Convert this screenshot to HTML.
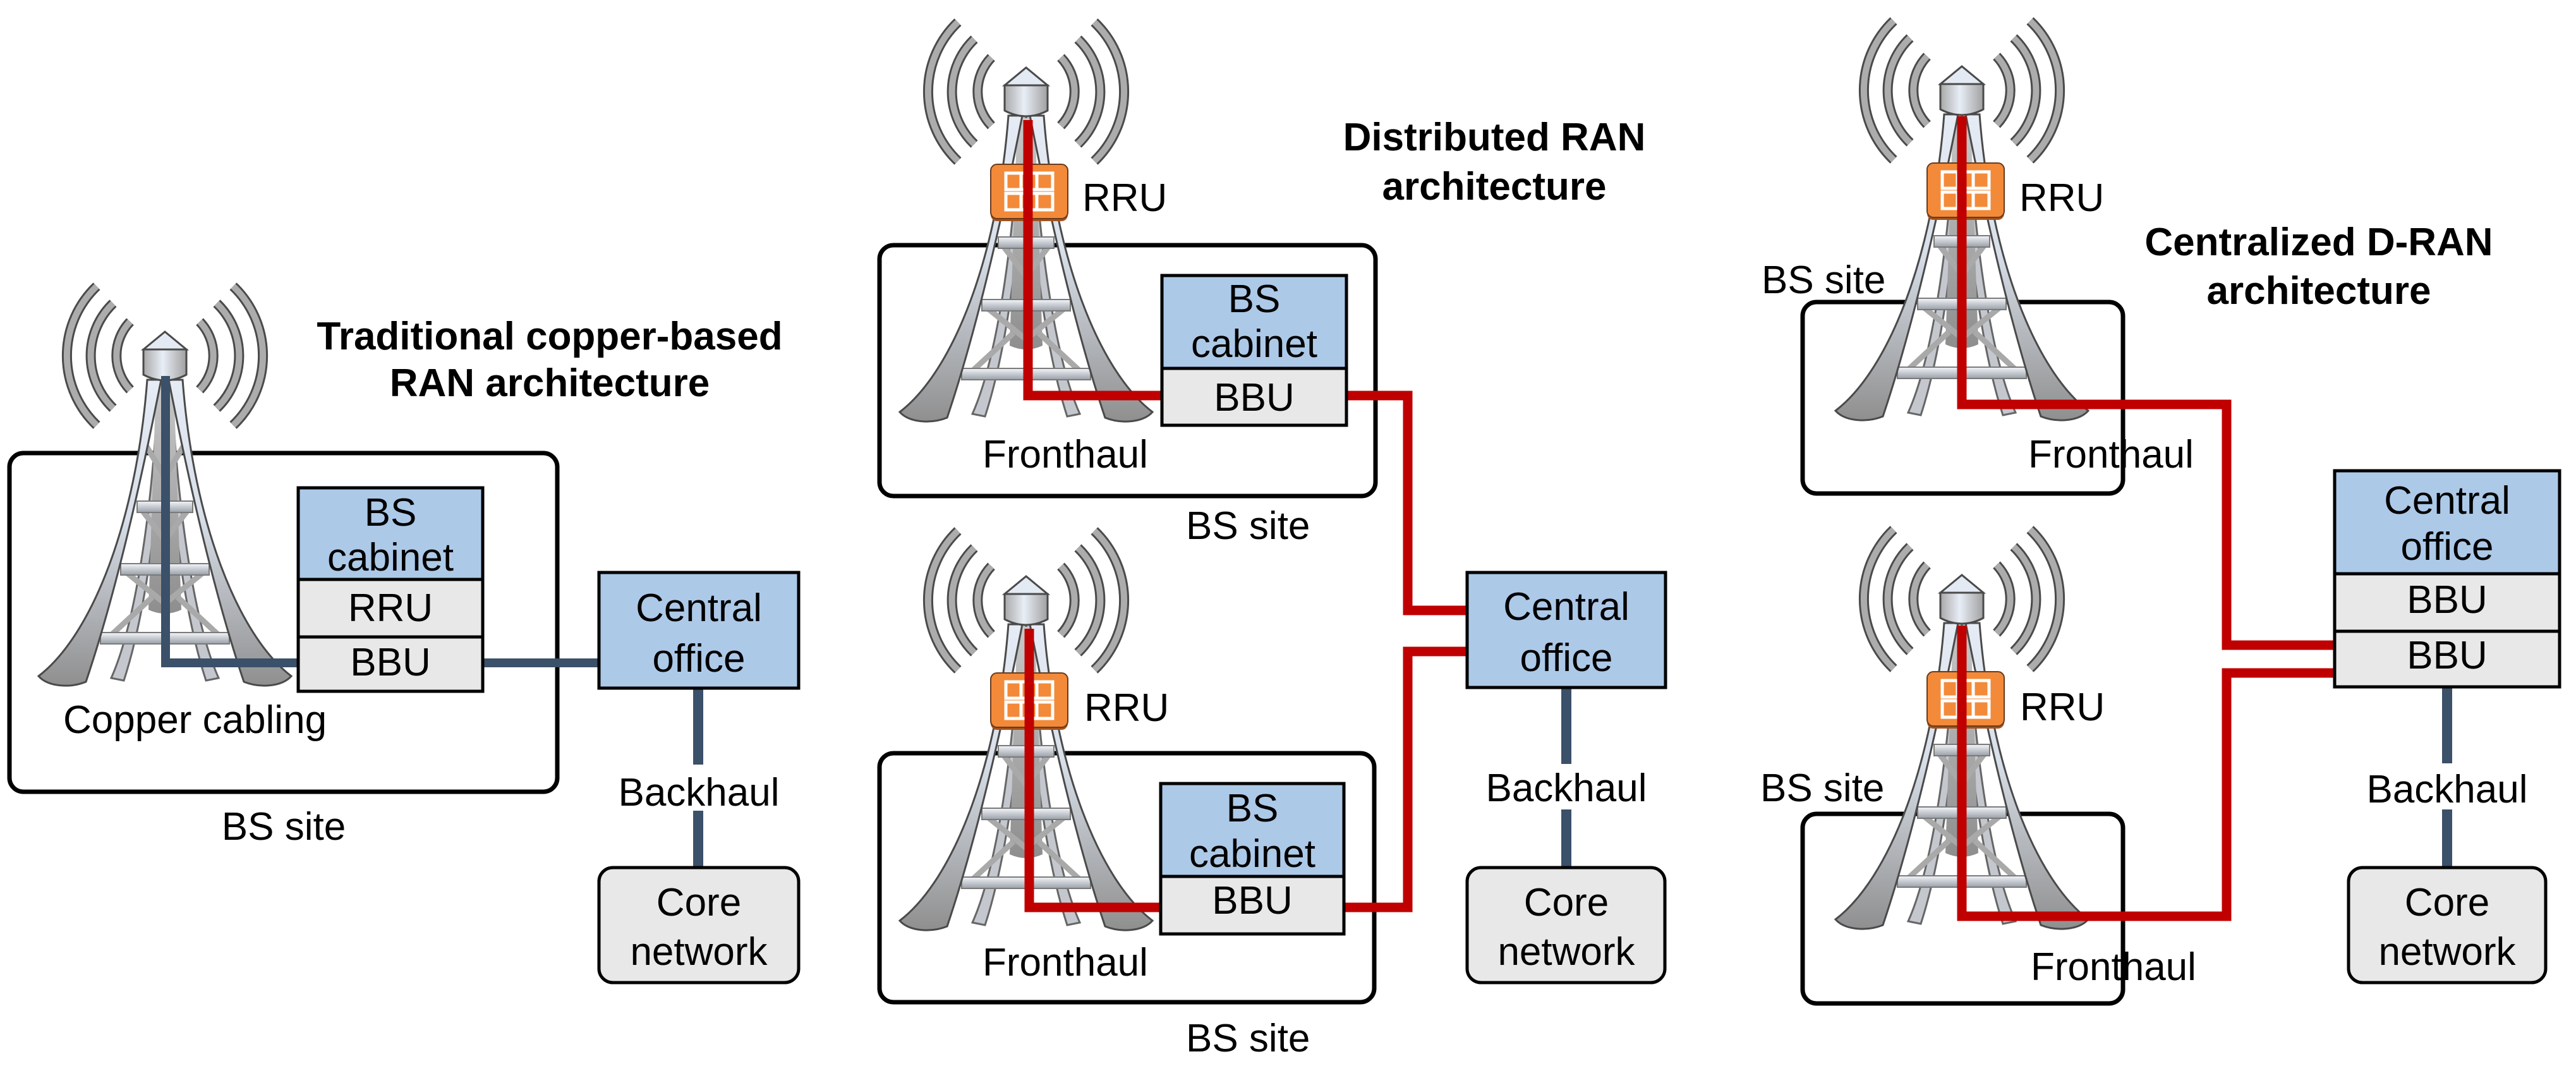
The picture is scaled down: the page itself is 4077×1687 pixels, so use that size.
<!DOCTYPE html>
<html><head><meta charset="utf-8"><style>
html,body{margin:0;padding:0;background:#fff;}
svg{display:block;}
text{font-family:"Liberation Sans",Arial,sans-serif;fill:#000;}
.l{font-size:62px;text-anchor:middle;}
.ll{font-size:62px;}
.t{font-size:62px;font-weight:bold;text-anchor:middle;}
</style></head><body>
<svg width="4077" height="1687" viewBox="0 0 4077 1687" xmlns="http://www.w3.org/2000/svg">
<defs>
<linearGradient id="leg" x1="0" y1="0" x2="0" y2="1">
<stop offset="0" stop-color="#e6ecf5"/><stop offset="0.45" stop-color="#d8dfe9"/><stop offset="1" stop-color="#8f8f8f"/>
</linearGradient>
<linearGradient id="cyl" x1="0" y1="0" x2="1" y2="0">
<stop offset="0" stop-color="#a8a8a8"/><stop offset="0.45" stop-color="#e8eef6"/><stop offset="1" stop-color="#a0a0a0"/>
</linearGradient>
<linearGradient id="pole" x1="0" y1="0" x2="0" y2="1">
<stop offset="0" stop-color="#c8c8c8"/><stop offset="1" stop-color="#8e8e8e"/>
</linearGradient>
<linearGradient id="bar" x1="0" y1="0" x2="0" y2="1">
<stop offset="0" stop-color="#f4f6fa"/><stop offset="1" stop-color="#9aa0a8"/>
</linearGradient>
<g id="waves" fill="none">
<g stroke="#4a4a4a" stroke-width="16">
<path d="M -55 -16 A 78 78 0 0 0 -55 92"/><path d="M 55 -16 A 78 78 0 0 1 55 92"/>
<path d="M -82 -45 A 115 115 0 0 0 -82 121"/><path d="M 82 -45 A 115 115 0 0 1 82 121"/>
<path d="M -108 -72 A 152 152 0 0 0 -108 148"/><path d="M 108 -72 A 152 152 0 0 1 108 148"/>
</g>
<g stroke="#acacac" stroke-width="10">
<path d="M -55 -16 A 78 78 0 0 0 -55 92"/><path d="M 55 -16 A 78 78 0 0 1 55 92"/>
<path d="M -82 -45 A 115 115 0 0 0 -82 121"/><path d="M 82 -45 A 115 115 0 0 1 82 121"/>
<path d="M -108 -72 A 152 152 0 0 0 -108 148"/><path d="M 108 -72 A 152 152 0 0 1 108 148"/>
</g>
</g>
<g id="tower">
<use href="#waves"/>
<path d="M -10 76 C -20 300 -50 470 -85 548 L -65 552 C -35 460 -8 300 0 76 Z" fill="#c4c8ce" stroke="#666" stroke-width="3"/>
<path d="M 10 76 C 20 300 50 470 85 548 L 65 552 C 35 460 8 300 0 76 Z" fill="#c4c8ce" stroke="#666" stroke-width="3"/>
<path d="M -14 80 L -26 440 Q 0 452 26 440 L 14 80 Z" fill="url(#pole)"/>
<g stroke="#a9a9a9" stroke-width="9">
<line x1="-38" y1="280" x2="0" y2="330"/><line x1="38" y1="280" x2="0" y2="330"/>
<line x1="-62" y1="380" x2="0" y2="430"/><line x1="62" y1="380" x2="0" y2="430"/>
<line x1="-85" y1="480" x2="-20" y2="420"/><line x1="85" y1="480" x2="20" y2="420"/>
<line x1="-30" y1="180" x2="0" y2="230"/><line x1="30" y1="180" x2="0" y2="230"/>
</g>
<g stroke="#7a7a7a" stroke-width="2" fill="url(#bar)">
<rect x="-44" y="268" width="88" height="18"/>
<rect x="-70" y="367" width="140" height="18"/>
<rect x="-102" y="476" width="204" height="18"/>
</g>
<path d="M -28 76 C -45 300 -115 480 -200 545 C -185 562 -150 564 -125 554 C -90 450 -50 300 -6 76 Z" fill="url(#leg)" stroke="#4a4a4a" stroke-width="3"/>
<path d="M 28 76 C 45 300 115 480 200 545 C 185 562 150 564 125 554 C 90 450 50 300 6 76 Z" fill="url(#leg)" stroke="#4a4a4a" stroke-width="3"/>
<path d="M -34 28 L 0 0 L 34 28 Z" fill="#e4eaf3" stroke="#4a4a4a" stroke-width="3"/>
<path d="M -34 28 L 34 28 L 34 68 Q 0 86 -34 68 Z" fill="url(#cyl)" stroke="#4a4a4a" stroke-width="3"/>
</g>
<g id="rru">
<rect x="-58" y="0" width="122" height="90" rx="10" fill="#a3521d"/>
<rect x="-58" y="0" width="122" height="86" rx="10" fill="#f28a3a" stroke="#6b3a1a" stroke-width="2"/>
<g fill="none" stroke="#fff" stroke-width="5">
<rect x="-34" y="14" width="74" height="26"/><rect x="-34" y="46" width="74" height="26"/>
<line x1="-10" y1="14" x2="-10" y2="40"/><line x1="15" y1="14" x2="15" y2="40"/>
<line x1="-10" y1="46" x2="-10" y2="72"/><line x1="15" y1="46" x2="15" y2="72"/>
</g>
</g>
</defs>

<g fill="none" stroke="#000" stroke-width="7">
<rect x="15" y="717" width="867" height="536" rx="22"/>
<rect x="1392" y="388" width="785" height="397" rx="22"/>
<rect x="1392" y="1192" width="783" height="394" rx="22"/>
<rect x="2853" y="478" width="507" height="303" rx="22"/>
<rect x="2853" y="1288" width="507" height="300" rx="22"/>
</g>

<use href="#tower" transform="translate(261,525)"/>
<use href="#tower" transform="translate(1624,107)"/>
<use href="#tower" transform="translate(1624,912)"/>
<use href="#tower" transform="translate(3105,105)"/>
<use href="#tower" transform="translate(3105,910)"/>
<use href="#rru" transform="translate(1626,260)"/>
<use href="#rru" transform="translate(1626,1065)"/>
<use href="#rru" transform="translate(3108,258)"/>
<use href="#rru" transform="translate(3108,1063)"/>

<g fill="none" stroke="#3b5069" stroke-width="14">
<polyline points="262,595 262,1049 472,1049"/>
<line x1="764" y1="1049" x2="948" y2="1049"/>
</g>
<g stroke="#3b5069" stroke-width="16">
<line x1="1105" y1="1089" x2="1105" y2="1210"/><line x1="1105" y1="1283" x2="1105" y2="1373"/>
<line x1="2479" y1="1088" x2="2479" y2="1209"/><line x1="2479" y1="1281" x2="2479" y2="1373"/>
<line x1="3873" y1="1087" x2="3873" y2="1208"/><line x1="3873" y1="1281" x2="3873" y2="1373"/>
</g>

<g fill="none" stroke="#c00000" stroke-width="15">
<polyline points="1627,190 1627,626 1839,626"/>
<polyline points="2131,626 2228,626 2228,966 2322,966"/>
<polyline points="1629,995 1629,1436 1837,1436"/>
<polyline points="2127,1436 2228,1436 2228,1031 2322,1031"/>
<polyline points="3105,184 3105,640 3524,640 3524,1021 3695,1021"/>
<polyline points="3105,990 3105,1450 3524,1450 3524,1065 3695,1065"/>
</g>

<g stroke="#000" stroke-width="5">
<rect x="472" y="772" width="292" height="145" fill="#adc9e8"/>
<rect x="472" y="917" width="292" height="91" fill="#e8e8e8"/>
<rect x="472" y="1008" width="292" height="86" fill="#e8e8e8"/>
<rect x="948" y="906" width="316" height="183" fill="#adc9e8"/>
<rect x="948" y="1373" width="316" height="182" rx="22" fill="#e8e8e8"/>

<rect x="1839" y="436" width="292" height="147" fill="#adc9e8"/>
<rect x="1839" y="583" width="292" height="90" fill="#e8e8e8"/>
<rect x="1837" y="1240" width="290" height="147" fill="#adc9e8"/>
<rect x="1837" y="1387" width="290" height="91" fill="#e8e8e8"/>
<rect x="2322" y="906" width="314" height="182" fill="#adc9e8"/>
<rect x="2322" y="1373" width="313" height="182" rx="22" fill="#e8e8e8"/>

<rect x="3695" y="745" width="356" height="163" fill="#adc9e8"/>
<rect x="3695" y="908" width="356" height="91" fill="#e8e8e8"/>
<rect x="3695" y="999" width="356" height="88" fill="#e8e8e8"/>
<rect x="3717" y="1373" width="312" height="182" rx="22" fill="#e8e8e8"/>
</g>

<text class="t" x="870" y="553">Traditional copper-based</text>
<text class="t" x="870" y="627">RAN architecture</text>
<text class="t" x="2365" y="238">Distributed RAN</text>
<text class="t" x="2365" y="316">architecture</text>
<text class="t" x="3670" y="404">Centralized D-RAN</text>
<text class="t" x="3670" y="481">architecture</text>

<text class="l" x="618" y="832">BS</text>
<text class="l" x="618" y="903">cabinet</text>
<text class="l" x="618" y="983">RRU</text>
<text class="l" x="618" y="1069">BBU</text>
<text class="l" x="1106" y="983">Central</text>
<text class="l" x="1106" y="1063">office</text>
<text class="l" x="1106" y="1275">Backhaul</text>
<text class="l" x="1106" y="1449">Core</text>
<text class="l" x="1106" y="1527">network</text>
<text class="ll" x="100" y="1160">Copper cabling</text>
<text class="l" x="449" y="1329">BS site</text>

<text class="ll" x="1713" y="334">RRU</text>
<text class="l" x="1985" y="494">BS</text>
<text class="l" x="1985" y="565">cabinet</text>
<text class="l" x="1985" y="650">BBU</text>
<text class="ll" x="1555" y="740">Fronthaul</text>
<text class="ll" x="1877" y="853">BS site</text>
<text class="ll" x="1716" y="1141">RRU</text>
<text class="l" x="1982" y="1300">BS</text>
<text class="l" x="1982" y="1372">cabinet</text>
<text class="l" x="1982" y="1446">BBU</text>
<text class="ll" x="1555" y="1544">Fronthaul</text>
<text class="ll" x="1877" y="1664">BS site</text>
<text class="l" x="2479" y="981">Central</text>
<text class="l" x="2479" y="1062">office</text>
<text class="l" x="2479" y="1268">Backhaul</text>
<text class="l" x="2479" y="1449">Core</text>
<text class="l" x="2479" y="1527">network</text>

<text class="ll" x="3196" y="334">RRU</text>
<text class="ll" x="2788" y="464">BS site</text>
<text class="ll" x="3210" y="740">Fronthaul</text>
<text class="ll" x="3197" y="1140">RRU</text>
<text class="ll" x="2786" y="1268">BS site</text>
<text class="ll" x="3214" y="1551">Fronthaul</text>
<text class="l" x="3873" y="813">Central</text>
<text class="l" x="3873" y="886">office</text>
<text class="l" x="3873" y="970">BBU</text>
<text class="l" x="3873" y="1058">BBU</text>
<text class="l" x="3873" y="1270">Backhaul</text>
<text class="l" x="3873" y="1449">Core</text>
<text class="l" x="3873" y="1527">network</text>
</svg>
</body></html>
